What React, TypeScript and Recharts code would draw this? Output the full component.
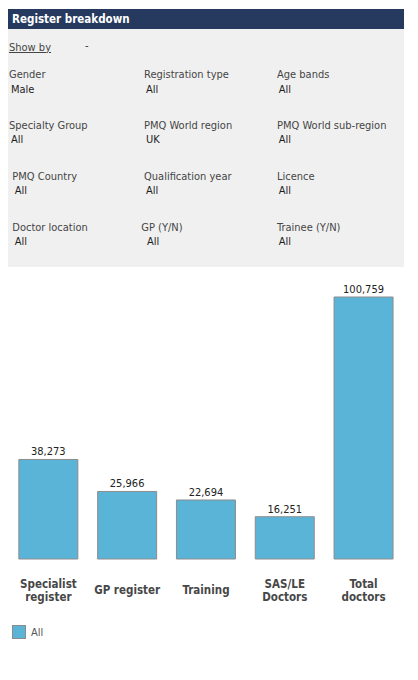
import React from "react";
import { BarChart, Bar, XAxis, YAxis, LabelList, Legend } from "recharts";

const categories = ["Specialist register", "GP register", "Training", "SAS/LE Doctors", "Total doctors"];
const tickLines = [["Specialist", "register"], ["GP register"], ["Training"], ["SAS/LE", "Doctors"], ["Total", "doctors"]];
const allValues = [38273, 25966, 22694, 16251, 100759];
const seriesName = "All";

const filterLabels = [
  ["Gender", "Registration type", "Age bands"],
  ["Specialty Group", "PMQ World region", "PMQ World sub-region"],
  ["PMQ Country", "Qualification year", "Licence"],
  ["Doctor location", "GP (Y/N)", "Trainee (Y/N)"],
];
const filterValues = [
  ["Male", "All", "All"],
  ["All", "UK", "All"],
  ["All", "All", "All"],
  ["All", "All", "All"],
];

const data = categories.map((c, i) => ({ name: c, lines: tickLines[i], value: allValues[i] }));

const FONT = '"DejaVu Sans Condensed", "DejaVu Sans", sans-serif';
const BAR_FILL = "#5AB4D8";
const BAR_STROKE = "#8C8C8C";

const rowTops = [60, 110.7, 161.7, 212.7];
const labelX = [
  [1, 136, 269],
  [1, 136, 269],
  [4.3, 136, 269],
  [4.3, 133.3, 269],
];
const valueX = [
  [3, 138, 270.7],
  [3, 138, 270.7],
  [6.7, 138, 270.7],
  [6.7, 139, 270.7],
];

const Tick = (props: any) => {
  const { x, y, index } = props;
  const lines: string[] = tickLines[index] || [String(props.payload?.value)];
  const baselines = lines.length === 1 ? [35] : [28.7, 41.5];
  return (
    <g>
      {lines.map((l, i) => (
        <text
          key={i}
          x={x}
          y={y + baselines[i]}
          textAnchor="middle"
          fontFamily={FONT}
          fontWeight="bold"
          fontSize={11.5}
          fill="#474747"
        >
          {l}
        </text>
      ))}
    </g>
  );
};

const LegendContent = () => (
  <div style={{ display: "flex", alignItems: "center", height: 16, paddingLeft: 3, fontFamily: FONT, fontSize: 11, color: "#555" }}>
    <span style={{ display: "inline-block", width: 12, height: 12, background: BAR_FILL, border: `1px solid ${BAR_STROKE}` }} />
    <span style={{ marginLeft: 5 }}>{seriesName}</span>
  </div>
);

export default function App() {
  const labelStyle: React.CSSProperties = {
    position: "absolute",
    fontFamily: FONT,
    fontSize: 11,
    lineHeight: "13px",
    color: "#454545",
    whiteSpace: "nowrap",
  };
  const valueStyle: React.CSSProperties = { ...labelStyle, color: "#1e1e1e" };
  return (
    <div style={{ position: "relative", width: 402, height: 664 }}>
      <div
        style={{
          position: "absolute",
          left: 0,
          top: 1,
          width: 396,
          height: 20,
          background: "#253A5E",
          color: "#ffffff",
          fontFamily: FONT,
          fontWeight: "bold",
          fontSize: 11.5,
          lineHeight: "20px",
          boxSizing: "border-box",
          paddingLeft: 4,
        }}
      >
        Register breakdown
      </div>
      <div style={{ position: "absolute", left: 0, top: 21, width: 396, height: 238, background: "#F0F0F0" }} />
      <div style={{ ...labelStyle, left: 1, top: 32.7, textDecoration: "underline" }}>Show by</div>
      <div style={{ ...labelStyle, left: 77, top: 31, color: "#333" }}>-</div>
      {filterLabels.map((row, r) =>
        row.map((lab, c) => (
          <React.Fragment key={`${r}-${c}`}>
            <div style={{ ...labelStyle, left: labelX[r][c], top: rowTops[r] }}>{lab}</div>
            <div style={{ ...valueStyle, left: valueX[r][c], top: rowTops[r] + 14.7 }}>{filterValues[r][c]}</div>
          </React.Fragment>
        ))
      )}
      <div style={{ position: "absolute", left: 0, top: 262 }}>
        <BarChart
          width={402}
          height={380}
          data={data}
          margin={{ top: 27, right: 7, left: 1, bottom: 10 }}
          barCategoryGap="12.5%"
        >
          <YAxis hide domain={[0, "dataMax"]} />
          <XAxis
            dataKey="name"
            axisLine={false}
            tickLine={false}
            tickSize={0}
            tickMargin={0}
            height={65}
            interval={0}
            tick={<Tick />}
          />
          <Legend verticalAlign="bottom" align="left" content={<LegendContent />} />
          <Bar dataKey="value" name={seriesName} fill={BAR_FILL} stroke={BAR_STROKE} strokeWidth={1} isAnimationActive={false}>
            <LabelList
              dataKey="value"
              position="top"
              offset={4}
              formatter={(v: any) => Number(v).toLocaleString("en-US")}
              fill="#222"
              fontSize={11}
              fontFamily={FONT}
            />
          </Bar>
        </BarChart>
      </div>
    </div>
  );
}
